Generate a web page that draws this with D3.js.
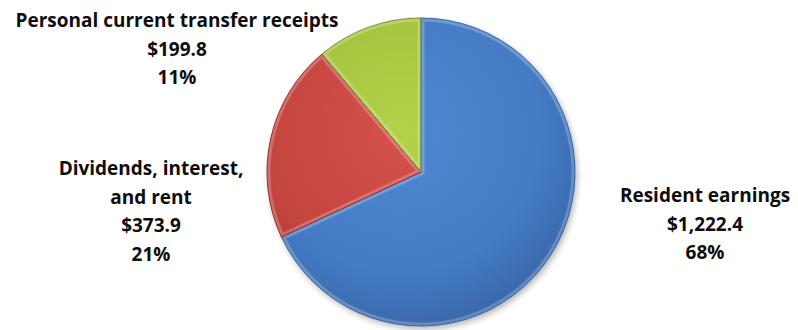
<!DOCTYPE html>
<html>
<head>
<meta charset="utf-8">
<script src="https://cdn.jsdelivr.net/npm/d3@7"></script>
<style>
  body { margin: 0; background: #fff; }
  text { font-family: "Open Sans", Lato, sans-serif; font-weight: bold; fill: #0d0d0d; }
</style>
</head>
<body>
<div id="chart"></div>
<script>
// income components, billions of dollars
const categories = ["Resident earnings", "Dividends, interest, and rent", "Personal current transfer receipts"];
const values = [1222.4, 373.9, 199.8];
const percents = ["68%", "21%", "11%"];
const labelLines = [["Resident earnings"], ["Dividends, interest,", "and rent"], ["Personal current transfer receipts"]];

const width = 798;
const height = 330;
const cx = 421, cy = 172, radius = 154;

const fills = [
    { light: "#5088d2", base: "#457bc4", dark: "#3563a2" },
    { light: "#d6524c", base: "#c4443f", dark: "#98302c" },
    { light: "#b4d24a", base: "#a2c13e", dark: "#7a962a" }
];
// label anchor (centre x, first baseline)
const labelPos = [[705, 202], [151, 175], [177, 27]];
const lineGap = 28.6;

const svg = d3.select("#chart")
    .append("svg")
    .attr("width", width)
    .attr("height", height);

const defs = svg.append("defs");

// gradients are in the pie group's own coordinates (origin at the centre)
fills.forEach((f, i) => {
    const g = defs.append("radialGradient")
        .attr("id", "grad" + i)
        .attr("gradientUnits", "userSpaceOnUse")
        .attr("cx", -20).attr("cy", -40)
        .attr("r", radius * 1.4);
    g.append("stop").attr("offset", "0%").attr("stop-color", f.light);
    g.append("stop").attr("offset", "65%").attr("stop-color", f.base);
    g.append("stop").attr("offset", "100%").attr("stop-color", f.dark);
});

const shadow = defs.append("filter").attr("id", "shadow")
    .attr("x", "-20%").attr("y", "-20%").attr("width", "140%").attr("height", "140%");
shadow.append("feGaussianBlur").attr("in", "SourceAlpha").attr("stdDeviation", 3);
shadow.append("feOffset").attr("dx", 2).attr("dy", 3).attr("result", "off");
shadow.append("feComponentTransfer").append("feFuncA").attr("type", "linear").attr("slope", 0.3);
const merge = shadow.append("feMerge");
merge.append("feMergeNode");
merge.append("feMergeNode").attr("in", "SourceGraphic");

const pie = d3.pie().sort(null).value(d => d);
const pie_data = pie(values);

const arcGenerator = d3.arc().innerRadius(0).outerRadius(radius);

const g = svg.append("g")
    .attr("transform", `translate(${cx}, ${cy})`);

pie_data.forEach((d, i) => {
    defs.append("clipPath").attr("id", "clip" + i)
        .append("path")
        .attr("d", arcGenerator(d));
});

g.append("g").attr("filter", "url(#shadow)")
    .selectAll("path")
    .data(pie_data)
    .enter()
    .append("path")
    .attr("d", arcGenerator)
    .attr("fill", (d, i) => `url(#grad${i})`);

// bevel highlight inside each slice edge
g.append("g")
    .selectAll("path")
    .data(pie_data)
    .enter()
    .append("path")
    .attr("clip-path", (d, i) => `url(#clip${i})`)
    .attr("d", arcGenerator)
    .attr("fill", "none")
    .attr("stroke", "#fff")
    .attr("stroke-opacity", 0.22)
    .attr("stroke-width", 7);

g.append("g")
    .selectAll("path")
    .data(pie_data)
    .enter()
    .append("path")
    .attr("d", arcGenerator)
    .attr("fill", "none")
    .attr("stroke", (d, i) => fills[i].dark)
    .attr("stroke-width", 1);

const fmt = d3.format(",.1f");

const labels = svg.append("g")
    .selectAll("text")
    .data(pie_data)
    .enter()
    .append("text")
    .attr("x", (d, i) => labelPos[i][0])
    .attr("y", (d, i) => labelPos[i][1])
    .style("text-anchor", "middle")
    .style("font-size", "19px");

labels.selectAll("tspan")
    .data((d, i) => labelLines[i].concat(["$" + fmt(d.data), percents[i]])
        .map(t => ({ t: t, x: labelPos[i][0] })))
    .enter()
    .append("tspan")
    .attr("x", d => d.x)
    .attr("dy", (d, j) => j === 0 ? 0 : lineGap)
    .text(d => d.t);
</script>
</body>
</html>
